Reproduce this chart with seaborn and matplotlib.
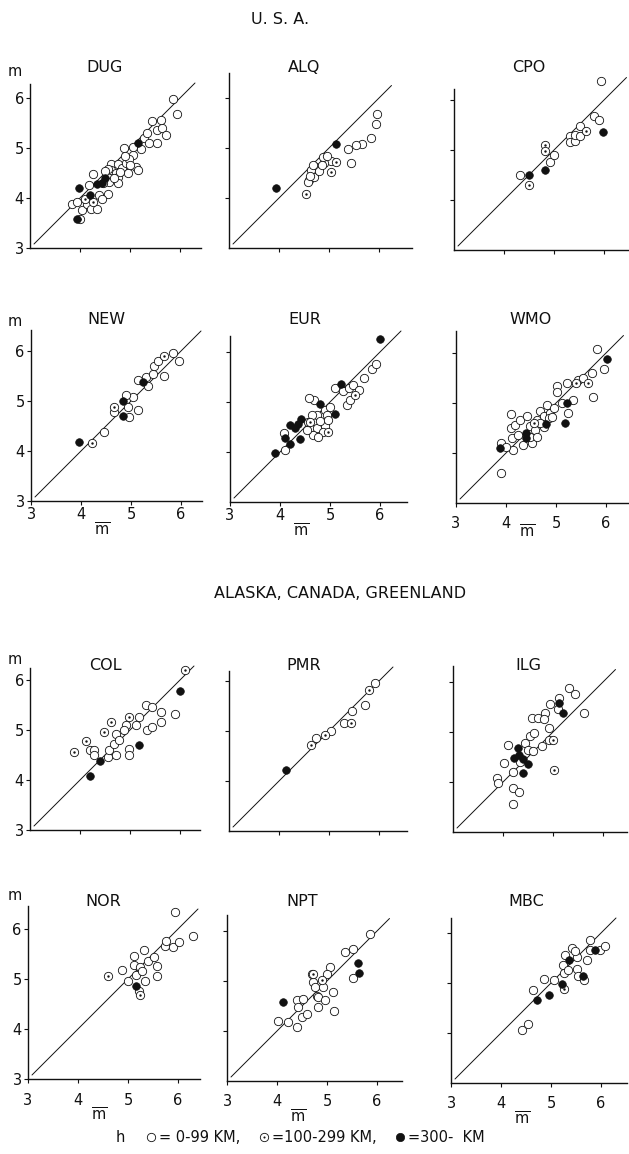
import matplotlib
matplotlib.use("Agg")
import matplotlib.pyplot as plt
import pandas as pd
import seaborn as sns
from matplotlib.lines import Line2D
from matplotlib.legend_handler import HandlerTuple
from matplotlib.transforms import blended_transform_factory

sns.set_theme(style="ticks", context="paper")
plt.rcParams["font.family"] = ["DejaVu Sans"]
plt.rcParams["mathtext.fontset"] = "dejavusans"

# ---- magnitude pairs (m-bar, m) per station, split by focal depth class ----
DUG_SHALLOW = [(3.83, 3.89), (3.94, 3.93), (4.03, 3.77), (4.14, 3.88), (4.22, 3.79), (4.33, 3.79),
               (4.25, 4.48), (4.17, 4.26), (4.38, 4.07), (4.55, 4.09), (4.44, 3.99), (4.62, 4.68),
               (4.75, 4.68), (4.62, 4.56), (4.72, 4.50), (4.55, 4.58), (4.58, 4.33), (4.76, 4.43),
               (4.85, 4.60), (4.95, 4.50), (4.91, 4.70), (4.87, 5.00), (5.05, 4.87), (5.11, 4.63),
               (5.15, 4.56), (4.98, 4.78), (4.75, 4.31), (4.81, 4.53), (5.28, 5.20), (5.38, 5.10),
               (5.54, 5.10), (5.44, 5.54), (5.54, 5.37), (5.64, 5.40), (5.71, 5.27), (5.61, 5.57),
               (5.85, 5.99), (5.94, 5.68), (5.34, 5.31), (5.05, 5.03), (5.21, 4.98), (4.45, 4.30),
               (4.68, 4.40), (4.50, 4.55), (4.90, 4.85), (5.00, 4.65)]
DUG_MID = [(3.99, 3.58), (4.25, 3.93), (4.10, 3.98)]
DUG_DEEP = [(3.97, 4.20), (3.94, 3.59), (4.19, 4.07), (4.35, 4.28), (4.43, 4.31), (4.50, 4.41), (5.16, 5.10)]

ALQ_SHALLOW = [(5.96, 5.68), (5.94, 5.49), (5.83, 5.20), (5.66, 5.09), (5.53, 5.07), (5.38, 4.99),
               (5.43, 4.70), (5.03, 4.73), (4.90, 4.70), (4.87, 4.83), (4.74, 4.63), (4.70, 4.50),
               (4.60, 4.36), (4.64, 4.56), (4.57, 4.33), (4.70, 4.43), (4.62, 4.45), (4.80, 4.55),
               (4.68, 4.65), (4.95, 4.85), (4.85, 4.65)]
ALQ_MID = [(5.13, 4.72), (5.03, 4.53), (4.54, 4.09)]
ALQ_DEEP = [(3.93, 4.20), (5.13, 5.09)]

CPO_SHALLOW = [(5.93, 6.38), (4.32, 4.49), (4.92, 4.75), (5.00, 4.89), (5.31, 5.27), (5.31, 5.15),
               (5.42, 5.17), (5.42, 5.29), (5.51, 5.27), (5.52, 5.47), (5.80, 5.67), (5.90, 5.59)]
CPO_MID = [(4.50, 4.29), (4.81, 5.09), (4.81, 4.97), (5.64, 5.37)]
CPO_DEEP = [(4.50, 4.49), (4.81, 4.59), (5.97, 5.36)]

NEW_SHALLOW = [(4.45, 4.39), (4.65, 4.79), (4.93, 4.89), (5.03, 5.09), (4.95, 4.69), (5.13, 4.82),
               (5.13, 5.42), (5.33, 5.30), (5.30, 5.49), (5.43, 5.55), (5.45, 5.70), (5.53, 5.80),
               (5.65, 5.51), (5.83, 5.97), (5.95, 5.80), (4.90, 5.12)]
NEW_MID = [(4.21, 4.17), (4.65, 4.89), (5.65, 5.90)]
NEW_DEEP = [(3.95, 4.19), (4.83, 5.00), (4.83, 4.70), (5.23, 5.39)]

EUR_SHALLOW = [(5.10, 5.29), (5.27, 5.22), (5.37, 5.29), (5.47, 5.35), (5.57, 5.25), (5.33, 4.95),
               (5.40, 5.04), (5.67, 5.49), (5.83, 5.67), (5.93, 5.77), (4.90, 4.85), (4.93, 4.75),
               (4.90, 4.52), (5.00, 4.90), (4.67, 5.05), (4.73, 4.75), (4.60, 4.49), (4.57, 5.09),
               (4.63, 4.75), (4.73, 4.49), (4.65, 4.35), (4.53, 4.45), (4.07, 4.39), (4.10, 4.05),
               (4.80, 4.62), (4.85, 4.40), (4.95, 4.65), (4.55, 4.60), (4.75, 4.30)]
EUR_MID = [(4.60, 4.60), (4.95, 4.40), (5.50, 5.15)]
EUR_DEEP = [(3.90, 3.99), (4.10, 4.29), (4.19, 4.55), (4.20, 4.17), (4.30, 4.49), (4.35, 4.57),
            (4.41, 4.67), (4.40, 4.27), (4.80, 4.97), (6.00, 6.27), (5.21, 5.37), (5.10, 4.77)]

WMO_SHALLOW = [(3.90, 4.21), (3.90, 3.61), (4.09, 4.79), (4.09, 4.51), (4.11, 4.31), (4.17, 4.57),
               (4.24, 4.37), (4.27, 4.67), (4.41, 4.74), (4.48, 4.54), (4.51, 4.21), (4.58, 4.46),
               (4.61, 4.67), (4.68, 4.84), (4.75, 4.74), (4.82, 4.97), (4.88, 4.80), (4.85, 4.70),
               (4.95, 4.90), (5.02, 5.34), (5.02, 5.23), (5.12, 5.00), (5.33, 5.07), (5.24, 4.81),
               (5.22, 5.40), (5.43, 5.47), (5.53, 5.50), (5.71, 5.61), (5.73, 5.13), (5.82, 6.09),
               (5.95, 5.69), (4.14, 4.07), (4.00, 4.13), (4.34, 4.17), (4.48, 4.33), (4.61, 4.33),
               (4.75, 4.53), (4.92, 4.73), (4.68, 4.60)]
WMO_MID = [(5.63, 5.40), (5.40, 5.40), (4.55, 4.60)]
WMO_DEEP = [(3.88, 4.10), (4.40, 4.40), (4.40, 4.30), (4.80, 4.59), (5.21, 5.01), (5.18, 4.61), (6.02, 5.89)]

COL_SHALLOW = [(4.19, 4.61), (4.28, 4.61), (4.28, 4.51), (4.55, 4.47), (4.58, 4.61), (4.68, 4.73),
               (4.72, 4.93), (4.72, 4.51), (4.78, 4.80), (4.91, 5.10), (4.98, 4.63), (4.98, 4.51),
               (5.11, 5.10), (5.18, 5.27), (5.31, 5.50), (5.34, 5.00), (5.44, 5.07), (5.61, 5.37),
               (5.61, 5.17), (5.89, 5.32), (4.88, 5.01), (5.44, 5.47)]
COL_MID = [(3.87, 4.57), (4.11, 4.79), (4.48, 4.97), (4.62, 5.17), (4.98, 5.27), (6.09, 6.20)]
COL_DEEP = [(4.19, 4.09), (4.40, 4.38), (5.18, 4.70), (5.99, 5.78)]

PMR_SHALLOW = [(4.74, 4.87), (5.04, 5.00), (5.31, 5.17), (5.47, 5.40), (5.71, 5.53), (5.91, 5.97)]
PMR_MID = [(4.64, 4.73), (4.91, 4.93), (5.44, 5.17), (5.81, 5.83)]
PMR_DEEP = [(4.13, 4.23)]

ILG_SHALLOW = [(3.87, 4.08), (3.90, 3.98), (4.10, 4.75), (4.02, 4.38), (4.20, 4.21), (4.20, 3.88),
               (4.31, 3.81), (4.19, 3.57), (4.33, 4.41), (4.43, 4.78), (4.50, 4.65), (4.53, 4.92),
               (4.57, 5.29), (4.62, 4.99), (4.70, 5.29), (4.77, 4.72), (4.83, 5.39), (4.82, 5.26),
               (4.91, 5.09), (4.91, 4.85), (4.93, 5.56), (5.11, 5.69), (5.31, 5.88), (5.43, 5.76),
               (5.62, 5.38), (5.10, 5.46), (4.60, 4.62)]
ILG_MID = [(5.00, 4.85), (5.01, 4.25)]
ILG_DEEP = [(4.29, 4.68), (4.21, 4.49), (4.31, 4.55), (4.39, 4.47), (4.50, 4.37), (4.40, 4.18),
            (5.11, 5.59), (5.20, 5.38)]

NOR_SHALLOW = [(4.89, 5.19), (5.01, 4.97), (5.15, 5.09), (5.13, 5.28), (5.13, 5.47), (5.33, 5.59),
               (5.25, 5.24), (5.35, 4.97), (5.41, 5.37), (5.52, 5.45), (5.57, 5.26), (5.57, 5.07),
               (5.22, 4.77), (5.28, 5.17), (5.75, 5.67), (5.90, 5.65), (6.03, 5.75), (5.95, 6.35),
               (6.31, 5.87), (5.76, 5.77)]
NOR_MID = [(4.60, 5.07), (5.25, 4.68)]
NOR_DEEP = [(5.16, 4.86)]

NPT_SHALLOW = [(4.01, 4.21), (4.21, 4.19), (4.39, 4.09), (4.39, 4.62), (4.52, 4.65), (4.42, 4.49),
               (4.72, 4.99), (4.80, 4.70), (4.82, 4.49), (4.49, 4.29), (4.59, 4.35), (4.69, 5.15),
               (4.75, 4.89), (4.82, 4.69), (4.96, 4.62), (5.06, 5.29), (5.12, 4.79), (5.14, 4.40),
               (5.00, 5.15), (5.36, 5.59), (5.52, 5.65), (5.52, 5.07), (5.86, 5.95), (4.92, 4.89)]
NPT_MID = [(4.72, 5.14), (4.89, 5.02)]
NPT_DEEP = [(4.11, 4.59), (5.62, 5.37), (5.64, 5.17)]

MBC_SHALLOW = [(4.42, 4.07), (4.53, 4.19), (4.64, 4.87), (4.85, 5.09), (5.05, 5.07), (5.24, 5.37),
               (5.25, 5.21), (5.27, 5.56), (5.51, 5.53), (5.51, 5.29), (5.54, 5.14), (5.66, 5.07),
               (5.71, 5.46), (5.77, 5.66), (5.78, 5.86), (5.98, 5.67), (6.08, 5.75), (5.34, 5.27),
               (5.41, 5.70), (5.47, 5.65)]
MBC_MID = [(5.25, 4.88)]
MBC_DEEP = [(4.72, 4.66), (4.95, 4.76), (5.22, 4.99), (5.36, 5.47), (5.63, 5.14), (5.88, 5.66)]

STATIONS = ["DUG", "ALQ", "CPO", "NEW", "EUR", "WMO",
            "COL", "PMR", "ILG", "NOR", "NPT", "MBC"]
DEPTH_CLASSES = ["0-99", "100-299", "300-"]
LEGEND_LABELS = ["= 0-99 KM,", "=100-299 KM,", "=300-  KM"]
SECTION_TITLES = ["U. S. A.", "ALASKA, CANADA, GREENLAND"]
TICK_VALUES = [3, 4, 5, 6]

# ---- tidy table ----
rows = []
for name in STATIONS:
    groups = [globals()[f"{name}_SHALLOW"], globals()[f"{name}_MID"], globals()[f"{name}_DEEP"]]
    for cls, pts in zip(DEPTH_CLASSES, groups):
        for mb, m in pts:
            rows.append({"station": name, "mbar": mb, "m": m, "h": cls})
df = pd.DataFrame(rows)

# ---- page layout (pixels on a 629 x 1154 canvas, 50 px per magnitude unit) ----
W, H = 629, 1154
UNIT = 50.0
LEFT_PX = [[30, 229, 454], [31, 230, 456], [30, 229, 453], [28, 227, 451]]
BOTTOM_PX = [[248, 248, 250], [501, 502, 503], [830, 831, 832], [1079, 1081, 1083]]
YTOP = [[6.28, 6.50, 6.22], [6.42, 6.32, 6.45], [6.24, 6.20, 6.33], [6.46, 6.32, 6.30]]
XMAX = [[6.42, 6.66, 6.50], [6.42, 6.54, 6.48], [6.40, 6.56, 6.48], [6.44, 6.50, 6.52]]
DIAG_END = [[6.30, 6.25, 6.45], [6.40, 6.42, 6.35], [6.28, 6.28, 6.25], [6.40, 6.25, 6.30]]
TITLE_Y_PX = [67, 320, 665, 902]
M_LABEL_Y_PX = [72, 322, 660, 895]
XLABEL_ROWS = {1: [1.0, 1.0, 6.0], 3: [7.0, 6.0, 6.0]}
MBAR_OFFSET = {1: -20, 3: -27}

fig = plt.figure(figsize=(W / 100, H / 100), dpi=100)
fig.patch.set_facecolor("white")

ink = "#111111"
for idx, name in enumerate(STATIONS):
    r, c = divmod(idx, 3)
    xmax, ytop = XMAX[r][c], YTOP[r][c]
    rect = [LEFT_PX[r][c] / W, 1 - BOTTOM_PX[r][c] / H,
            (xmax - 3) * UNIT / W, (ytop - 3) * UNIT / H]
    ax = fig.add_axes(rect)
    sub = df[df.station == name]

    d = DIAG_END[r][c]
    ax.plot([3.08, d], [3.08, d], color=ink, lw=0.7, clip_on=False, zorder=2)

    shallow = sub[sub.h == "0-99"]
    mid = sub[sub.h == "100-299"]
    deep = sub[sub.h == "300-"]
    sns.scatterplot(data=shallow, x="mbar", y="m", ax=ax, marker="o", s=36,
                    color="white", edgecolor=ink, linewidth=0.6, zorder=3, clip_on=False)
    sns.scatterplot(data=mid, x="mbar", y="m", ax=ax, marker="o", s=36,
                    color="white", edgecolor=ink, linewidth=0.6, zorder=3, clip_on=False)
    sns.scatterplot(data=mid, x="mbar", y="m", ax=ax, marker="o", s=3,
                    color=ink, linewidth=0, zorder=4, clip_on=False)
    sns.scatterplot(data=deep, x="mbar", y="m", ax=ax, marker="o", s=30,
                    color=ink, edgecolor=ink, linewidth=0.5, zorder=5, clip_on=False)

    ax.set_xlim(3, xmax)
    ax.set_ylim(3, ytop)
    ax.set_xlabel("")
    ax.set_ylabel("")
    for side in ("top", "right"):
        ax.spines[side].set_visible(False)
    for side in ("left", "bottom"):
        ax.spines[side].set_linewidth(1.0)
        ax.spines[side].set_color(ink)
    ax.set_facecolor("none")

    # y axis: numbers only in the first column
    if c == 0:
        ax.set_yticks(TICK_VALUES)
        ax.set_yticklabels([str(v) for v in TICK_VALUES])
        ax.tick_params(axis="y", pad=1.5, labelsize=10.5)
        fig.text(15 / W, 1 - M_LABEL_Y_PX[r] / H, "m", ha="center", va="center",
                 fontsize=10.5, color=ink)
    else:
        ax.set_yticks([4, 5, 6])
        ax.set_yticklabels([])

    if r in XLABEL_ROWS:
        ax.set_xticks(TICK_VALUES)
        ax.set_xticklabels([str(v) for v in TICK_VALUES])
        ax.tick_params(axis="x", pad=XLABEL_ROWS[r][c], labelsize=10.5)
        ax.annotate(r"$\overline{\mathrm{m}}$", xy=(4.42, 0),
                    xycoords=("data", "axes fraction"),
                    xytext=(0, MBAR_OFFSET[r]), textcoords="offset pixels",
                    ha="center", va="top", fontsize=10.5, color=ink,
                    annotation_clip=False)
    else:
        ax.set_xticks([4, 5, 6])
        ax.set_xticklabels([])
    ax.tick_params(direction="out", length=3, width=0.8, colors=ink)

    trans = blended_transform_factory(ax.transData, fig.transFigure)
    ax.text(4.5, 1 - TITLE_Y_PX[r] / H, name, transform=trans, ha="center",
            va="center", fontsize=11.5, color=ink)

fig.text(280 / W, 1 - 20 / H, SECTION_TITLES[0], ha="center", va="center",
         fontsize=11.5, color=ink)
fig.text(340 / W, 1 - 594 / H, SECTION_TITLES[1], ha="center", va="center",
         fontsize=11.5, color=ink)

# depth legend along the bottom
fig.text(120 / W, 1 - 1138 / H, "h", ha="center", va="center", fontsize=10.5, color=ink)
h_shallow = Line2D([], [], ls="", marker="o", ms=6, mfc="white", mec=ink, mew=0.6)
h_ring = Line2D([], [], ls="", marker="o", ms=6, mfc="white", mec=ink, mew=0.6)
h_dot = Line2D([], [], ls="", marker="o", ms=1.5, mfc=ink, mec=ink, mew=0)
h_deep = Line2D([], [], ls="", marker="o", ms=6, mfc=ink, mec=ink, mew=0.5)
fig.legend([h_shallow, (h_ring, h_dot), h_deep], LEGEND_LABELS,
           handler_map={tuple: HandlerTuple(ndivide=1, pad=0)},
           loc="center left", bbox_to_anchor=(138 / W, 1 - 1138 / H),
           ncol=3, frameon=False, fontsize=10.5, handlelength=0.8,
           handletextpad=0.15, columnspacing=1.2, borderpad=0, labelcolor=ink)

fig.savefig("out.png", dpi=100, facecolor="white")
